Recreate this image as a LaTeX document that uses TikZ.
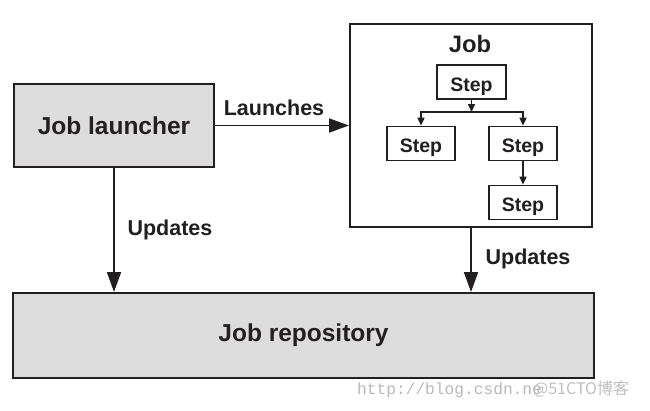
\documentclass[tikz,border=0pt]{standalone}
\usepackage{fontspec}
\setmainfont{Liberation Sans}
\newfontfamily\wmfont{Liberation Mono}
\newfontfamily\cjk{Noto Sans CJK SC}
\usetikzlibrary{arrows.meta}
\definecolor{ink}{HTML}{231F20}
\definecolor{boxgray}{HTML}{DCDCDC}
\tikzset{
  bigbox/.style={draw=ink, line width=2pt, fill=boxgray, inner sep=0pt, text=ink,
    font=\fontsize{24.5}{28}\selectfont\bfseries},
  jobbox/.style={draw=ink, line width=2pt, fill=white, inner sep=0pt},
  stepbox/.style={draw=ink, line width=1.7pt, fill=white, inner sep=0pt, text=ink,
    minimum width=68pt, minimum height=34pt, text height=18pt, text depth=0pt,
    font=\fontsize{19.5}{22}\selectfont\bfseries},
  lbl/.style={text=ink, inner sep=0pt, font=\fontsize{21.5}{24}\selectfont\bfseries},
  bigarrow/.style={draw=ink, line width=1.8pt, -{Triangle[length=20pt,width=14pt]}},
  smallarrow/.style={draw=ink, line width=1.6pt, -{Triangle[length=8pt,width=7pt]}},
}
\begin{document}
\begin{tikzpicture}[x=1pt,y=-1pt]
\useasboundingbox (0,0) rectangle (650,410);
\fill[white] (0,0) rectangle (650,410);
% main boxes
\node[bigbox, minimum width=200pt, minimum height=83pt] (launcher) at (114,125.5) {Job launcher};
\node[jobbox, minimum width=242pt, minimum height=203pt] (job) at (471,125.5) {};
\node[bigbox, minimum width=581pt, minimum height=85pt] (repo) at (303.5,335.5) {Job repository};
\node[lbl, font=\fontsize{23.8}{26}\selectfont\bfseries] (jobtitle) at (470,44) {Job};
% steps
\node[stepbox, minimum width=69pt] (s1) at (471.5,82) {Step};
\node[stepbox] (s2) at (421,143.5) {Step};
\node[stepbox] (s3) at (523,143.5) {Step};
\node[stepbox] (s4) at (523,202.5) {Step};
\coordinate (b) at (471.5,112);
\draw[smallarrow] (s1.south) -- (b);
\draw[smallarrow] (b) -| (s2.north);
\draw[smallarrow] (b) -| (s3.north);
\draw[smallarrow] (s3.south) -- (s4.north);
% connectors
\draw[bigarrow] (launcher.east) -- (job.west);
\node[lbl] (launches) at (274,108) {Launches};
\draw[bigarrow] (launcher.south) -- (launcher.south |- repo.north);
\node[lbl] (upd1) at (170,230) {Updates};
\draw[bigarrow] (job.south) -- (job.south |- repo.north);
\node[lbl] (upd2) at (528,259) {Updates};
% watermark
\node[anchor=base west, inner sep=0pt, text=black!28, font=\wmfont\fontsize{16.2}{18}\selectfont] (wm) at (357,394) {http://blog.csdn.ne};
\node[anchor=base west, inner sep=0pt, text=black!25, font=\cjk\fontsize{16}{18}\selectfont] (wm2) at (533,394) {@51CTO博客};
\end{tikzpicture}
\end{document}
